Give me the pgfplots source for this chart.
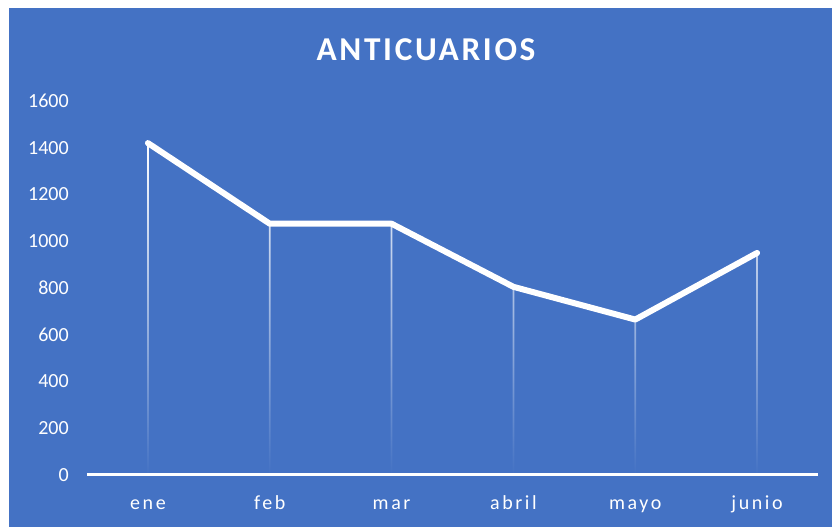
\documentclass[border=0pt]{standalone}
\usepackage{fontspec}
\setmainfont{Carlito}
\newfontfamily\titlefont[LetterSpace=8]{Carlito}
\newfontfamily\xlabfont[LetterSpace=13]{Carlito}
\usepackage{pgfplots}
\pgfplotsset{compat=1.18}
\definecolor{bg}{HTML}{4472C4}
\begin{document}
\begin{tikzpicture}
\useasboundingbox (-65.25pt,-39pt) rectangle (558.75pt,356.25pt);
\fill[white] (-65.25pt,-39pt) rectangle (558.75pt,356.25pt);
\fill[bg] (-58.5pt,-39pt) rectangle (558.75pt,350.25pt);
\begin{axis}[
 at={(0,0)}, anchor=south west, scale only axis,
 width=548.25pt, height=280.5pt,
 xmin=-0.5, xmax=5.5, ymin=0, ymax=1600,
 xtick={0,...,5}, xticklabels={ene,feb,mar,abril,mayo,junio},
 ytick={0,200,...,1600},
 axis line style={draw=none}, major tick length=0pt,
 ticklabel style={font=\fontsize{15}{18}\selectfont, text=white},
 xticklabel style={font=\fontsize{15}{18}\selectfont\xlabfont, anchor=base, inner sep=0pt, yshift=-26.25pt},
 yticklabel style={anchor=east, inner sep=0pt, xshift=-13.5pt},
 /pgf/number format/assume math mode=true,
 /pgf/number format/1000 sep={},
 clip=false,
]
\addplot[ybar, bar width=1.3pt, draw=none, top color=white, middle color=white!88!bg, bottom color=bg] coordinates {(0,1420) (1,1075) (2,1075) (3,805) (4,665) (5,950)};
\addplot[white, line width=4.5pt, line join=round, line cap=round] coordinates {(0,1420) (1,1075) (2,1075) (3,805) (4,665) (5,950)};
\draw[white, line width=2.25pt] (axis cs:-0.5,0) -- (axis cs:5.5,0);
\end{axis}
\node[text=white, font=\fontsize{25}{30}\selectfont\titlefont\bfseries] at (254.25pt,318.75pt) {ANTICUARIOS};
\end{tikzpicture}
\end{document}
